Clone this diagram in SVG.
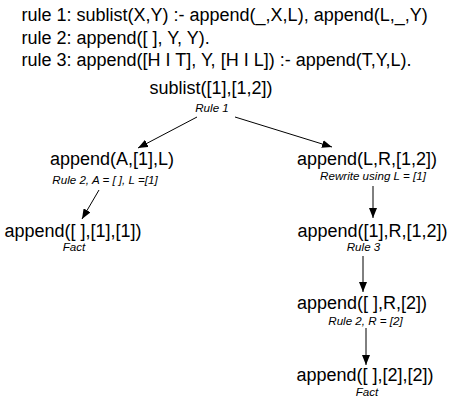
<svg xmlns="http://www.w3.org/2000/svg" width="469" height="402" viewBox="0 0 469 402">
<defs>
<marker id="ah" markerWidth="10" markerHeight="8" refX="10" refY="4" orient="auto" markerUnits="userSpaceOnUse">
<path d="M0,0 L10,4 L0,8 Z" fill="#000"/>
</marker>
<style>
.big{font-family:"Liberation Sans",Arial,sans-serif;font-size:18px;fill:#000}
.n{text-anchor:middle}
.sm{font-family:"Liberation Sans",Arial,sans-serif;font-size:11.6px;font-style:italic;fill:#000;text-anchor:middle}
.e{stroke:#000;stroke-width:1;fill:none;marker-end:url(#ah)}
</style>
</defs>
<rect width="469" height="402" fill="#fff"/>
<g id="rules">
<text class="big" x="21.5" y="21">rule 1: sublist(X,Y) :- append(_,X,L), append(L,_,Y)</text>
<text class="big" x="21.5" y="43.5">rule 2: append([ ], Y, Y).</text>
<text class="big" x="21.5" y="66">rule 3: append([H I T], Y, [H I L]) :- append(T,Y,L).</text>
</g>
<g id="n-root">
<text class="big n" x="211" y="94">sublist([1],[1,2])</text>
<text class="sm" x="212" y="112">Rule 1</text>
</g>
<g id="n-left1">
<text class="big n" x="112" y="165">append(A,[1],L)</text>
<text class="sm" x="105" y="184">Rule 2, A = [ ], L =[1]</text>
</g>
<g id="n-left2">
<text class="big n" x="73" y="237">append([ ],[1],[1])</text>
<text class="sm" x="74" y="251">Fact</text>
</g>
<g id="n-right1">
<text class="big n" x="367" y="165">append(L,R,[1,2])</text>
<text class="sm" x="373" y="180">Rewrite using L = [1]</text>
</g>
<g id="n-right2">
<text class="big n" x="372.5" y="237">append([1],R,[1,2])</text>
<text class="sm" x="363.5" y="251">Rule 3</text>
</g>
<g id="n-right3">
<text class="big n" x="362" y="309">append([ ],R,[2])</text>
<text class="sm" x="365.5" y="325">Rule 2, R = [2]</text>
</g>
<g id="n-right4">
<text class="big n" x="365" y="381">append([ ],[2],[2])</text>
<text class="sm" x="367" y="396">Fact</text>
</g>
<g id="connectors">
<line class="e" x1="197" y1="117" x2="138" y2="148"/>
<line class="e" x1="235" y1="117" x2="332" y2="147"/>
<line class="e" x1="99" y1="190" x2="82" y2="219"/>
<line class="e" x1="373" y1="186" x2="373" y2="218"/>
<line class="e" x1="363" y1="256" x2="363" y2="292"/>
<line class="e" x1="366" y1="328" x2="366" y2="365"/>
</g>
</svg>
